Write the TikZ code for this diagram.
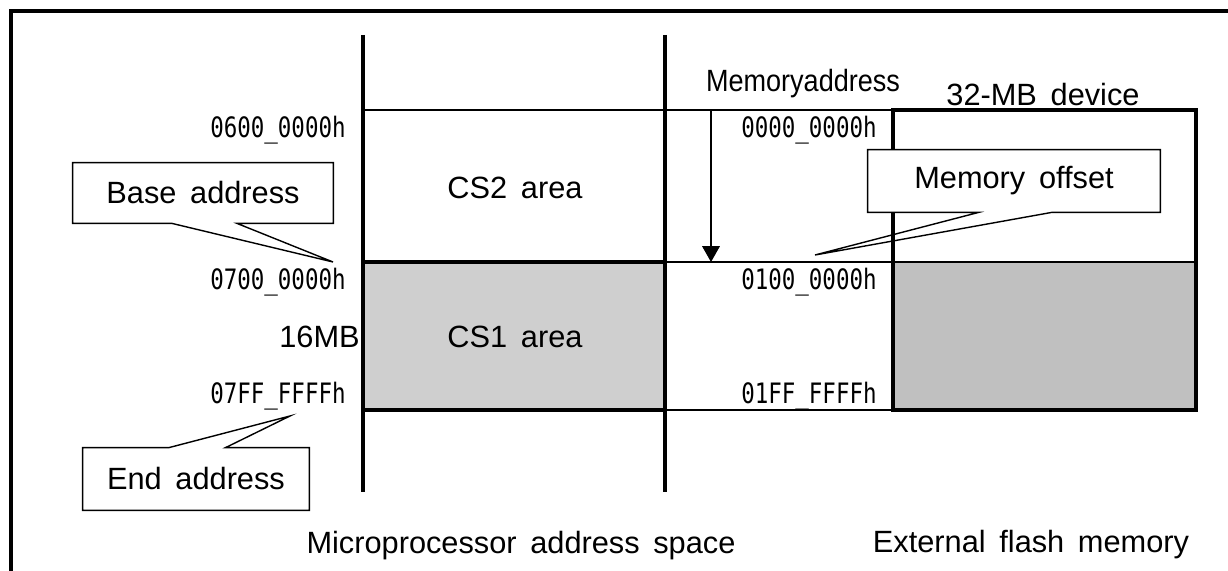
\documentclass[tikz,border=0pt]{standalone}
\usepackage{fontspec}
\setmainfont{Liberation Sans}[WordSpace=1.6]
\newfontfamily\hexfont[FakeStretch=0.8]{DejaVu Sans Mono}
\usepackage{tikz}
\usetikzlibrary{calc,arrows.meta}

\definecolor{csgray}{HTML}{CFCFCF}
\definecolor{devgray}{HTML}{C0C0C0}

\begin{document}
\begin{tikzpicture}[x=0.02cm,y=-0.02cm,
  lbl/.style={font=\fontsize{17.5}{21}\selectfont,inner sep=0pt,anchor=base},
  hexlbl/.style={font=\hexfont\fontsize{16}{19}\selectfont,inner sep=0pt,anchor=base east},
  callout/.style={fill=white,inner sep=0pt,font=\fontsize{17.5}{21}\selectfont},
  thinline/.style={line width=0.8pt},
  thickline/.style={line width=2pt}]
\useasboundingbox (0,0) rectangle (1228,571);
% frame
\draw[thickline] (11,571) -- (11,11) -- (1228,11);

\draw[thinline] (363,110) -- (893,110);
\draw[thinline] (665,262) -- (893,262);
\draw[thinline] (665,410) -- (893,410);
\filldraw[fill=csgray, thickline] (363,262) rectangle (665,410);
\fill[devgray] (893,262) rectangle (1196,410);
\draw[thinline] (893,262) -- (1196,262);
\draw[thickline] (893,110) rectangle (1196,410);
\draw[thickline] (363,35) -- (363,492);
\draw[thickline] (665,35) -- (665,492);

\coordinate (memtop) at (711,110);
\coordinate (membot) at (711,262);
\draw[thinline,-{Triangle[width=10pt,length=9pt]}] (memtop) -- (membot);

\node[lbl] (cs2) at (515,198) {CS2 area};
\node[lbl] (cs1) at (515,347) {CS1 area};
\node[lbl,anchor=base east] (size) at (360,347) {16MB};
\node[lbl,font=\fontsize{17.5}{21}\selectfont\addfontfeature{FakeStretch=0.88}] (maddr) at (803,92) {Memoryaddress};
\node[lbl] (dev) at (1043,106) {32-MB device};
\node[lbl] (mpu) at (521,553) {Microprocessor address space};
\node[lbl] (ext) at (1031,552) {External flash memory};

\node[hexlbl] (a0600) at (346,138) {0600\_0000h};
\node[hexlbl] (a0700) at (346,289) {0700\_0000h};
\node[hexlbl] (a07ff) at (346,403) {07FF\_FFFFh};
\node[hexlbl] (m0000) at (877,138) {0000\_0000h};
\node[hexlbl] (m0100) at (877,289) {0100\_0000h};
\node[hexlbl] (m01ff) at (877,403) {01FF\_FFFFh};

% callouts
\coordinate (basetip) at (333,262);
\coordinate (endtip) at (290,416);
\coordinate (offtip) at (815,255);
\node[callout,minimum width=5.2cm,minimum height=1.2cm] (base) at (203,193) {Base address};
\node[callout,minimum width=4.52cm,minimum height=1.24cm] (endad) at (196,479) {End address};
\node[callout,minimum width=5.84cm,minimum height=1.24cm] (offset) at (1014,181) {Memory offset};
\draw[thinline] (base.south west) -- (base.north west) -- (base.north east) -- (base.south east)
  -- ($(base.south west)!0.63!(base.south east)$) -- (basetip) -- ($(base.south west)!0.38!(base.south east)$) -- cycle;
\draw[thinline] (endad.north west) -- (endad.south west) -- (endad.south east) -- (endad.north east)
  -- ($(endad.north west)!0.63!(endad.north east)$) -- (endtip) -- ($(endad.north west)!0.38!(endad.north east)$) -- cycle;
\draw[thinline] (offset.south west) -- (offset.north west) -- (offset.north east) -- (offset.south east)
  -- ($(offset.south west)!0.63!(offset.south east)$) -- (offtip) -- ($(offset.south west)!0.38!(offset.south east)$) -- cycle;
\end{tikzpicture}
\end{document}
